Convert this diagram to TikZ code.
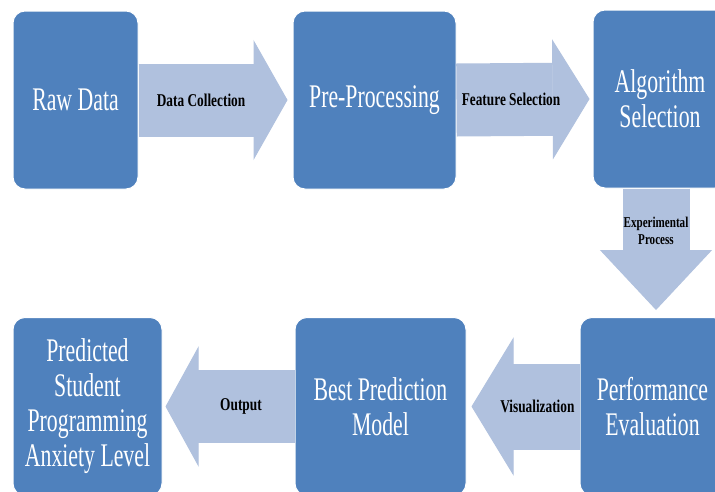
\documentclass[tikz,border=0pt]{standalone}
\usepackage{fontspec}
\setmainfont{Liberation Serif}
\newfontfamily\boxfont{Liberation Serif}[FakeStretch=0.66]
\newfontfamily\labfont{Liberation Serif}[FakeStretch=0.74]
\usetikzlibrary{arrows.meta}
\definecolor{boxblue}{RGB}{79,129,189}
\definecolor{arrblue}{RGB}{176,193,222}
\tikzset{box/.style={fill=boxblue,draw=white,line width=1pt,rounded corners=12pt,text=white,align=center,minimum height=178pt,font=\boxfont\fontsize{33}{35}\selectfont},flow/.style n args={3}{draw=arrblue,line width=#1,-{Triangle[length=#3,width=#2,line width=1pt]}},lab/.style={text=black,align=center,font=\labfont\bfseries\fontsize{18}{20}\selectfont}}

\begin{document}
\begin{tikzpicture}[x=1pt,y=-1pt]
\useasboundingbox (0,0) rectangle (715,491);
\clip (0,0) rectangle (715,491);
\fill[white] (0,0) rectangle (715,491);
\node[box,minimum width=125pt] (raw) at (75.5,100) {Raw Data};
\node[box,minimum width=163pt] (pre) at (374.5,100) {Pre-Processing};
\node[box,minimum width=134pt] (algo) at (660,99) {Algorithm\\Selection};
\node[box,minimum width=145pt] (perf) at (652.5,406.5) {Performance\\Evaluation};
\node[box,minimum width=171pt] (best) at (380.5,406.5) {Best Prediction\\Model};
\node[box,minimum width=149pt] (pred) at (87.5,406.5) {Predicted\\Student\\Programming\\Anxiety Level};
\draw[flow={73pt}{120pt}{34pt}] (raw.east) -- ([xshift=-5pt]pre.west) node[lab,pos=.42]{Data Collection};
\draw[flow={73pt}{120pt}{37pt}] (pre.east) -- ([xshift=-3pt]algo.west) node[lab,pos=.41]{Feature Selection};
\draw[flow={67pt}{112pt}{60pt}] ([xshift=-4pt]algo.south) -- ([xshift=3.5pt,yshift=7pt]perf.north) node[lab,pos=.35,font=\labfont\bfseries\fontsize{15}{17}\selectfont]{Experimental\\Process};
\draw[flow={86pt}{138pt}{42pt}] (perf.west) -- ([xshift=5pt]best.east) node[lab,pos=.39]{Visualization};
\draw[flow={73pt}{120pt}{33pt}] (best.west) -- ([xshift=3pt]pred.east) node[lab,pos=.415]{Output};
\end{tikzpicture}
\end{document}
